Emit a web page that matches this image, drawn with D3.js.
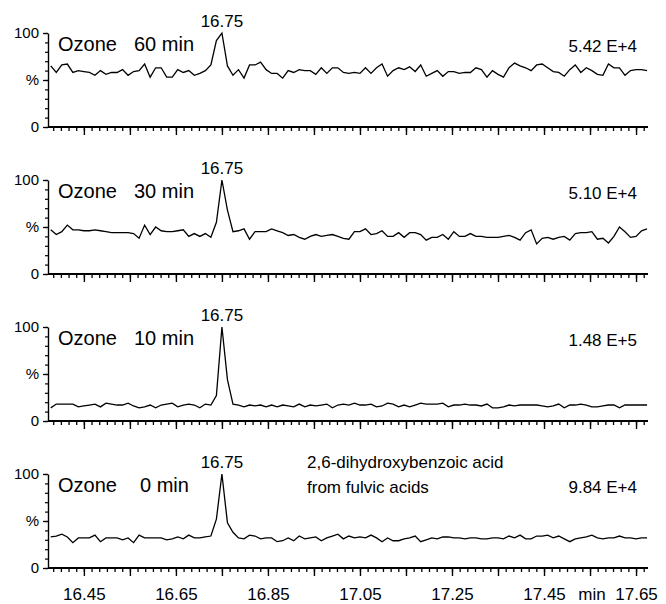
<!DOCTYPE html>
<html>
<head>
<meta charset="utf-8">
<script src="https://cdn.jsdelivr.net/npm/d3@7"></script>
<style>
  body { margin: 0; background: #fff; }
  text { font-family: "Liberation Sans", Arial, sans-serif; fill: #000; }
</style>
</head>
<body>
<svg id="chart" width="666" height="604"></svg>
<script>
// chromatogram traces, relative intensity (%) per scan
const ozone60 = [65,58,66,67,58,60,59,58,55,60,56,58,58,61,55,59,60,67,53,63,63,53,53,61,58,60,55,57,60,66,92,100,
  65,55,61,52,66,66,69,61,57,57,52,60,58,61,60,60,56,63,57,63,63,
  58,57,58,57,63,57,63,67,54,60,63,61,64,59,66,54,57,60,54,59,59,57,58,58,63,61,53,60,56,53,
  63,68,65,63,60,66,67,63,59,58,54,61,66,58,63,60,56,55,67,63,63,55,60,61,61,60];
const ozone30 = [47,42,45,52,47,47,46,46,47,46,45,44,44,44,44,43,38,52,42,50,46,45,45,46,47,40,43,40,43,39,55,100,
  68,45,46,48,37,45,45,45,48,46,44,41,42,39,37,40,42,40,41,42,40,
  38,37,45,45,48,42,43,46,40,40,44,39,44,44,42,36,39,39,42,37,45,40,40,43,40,40,39,39,39,40,
  41,39,36,44,47,32,38,39,37,39,40,36,43,44,44,45,37,38,33,40,50,45,39,40,46,48];
const ozone10 = [14,18,18,18,18,15,16,17,18,15,19,18,17,17,19,16,14,15,17,14,17,18,19,15,17,18,17,14,18,17,27,100,
  44,18,17,15,17,16,17,15,17,15,17,16,15,18,15,17,16,17,18,14,17,
  18,17,19,17,17,18,15,16,19,18,15,17,15,17,19,18,18,18,19,15,17,17,18,17,17,16,18,14,14,15,
  17,16,17,17,17,17,16,15,16,18,14,17,17,18,17,15,15,16,17,17,14,17,17,17,17,17];
const ozone0 = [33,34,36,33,27,32,32,32,35,28,32,32,32,30,32,27,35,32,32,32,32,30,31,33,31,35,32,32,33,34,52,100,
  48,38,32,31,35,34,31,32,32,28,29,32,29,34,31,32,33,29,32,34,36,
  31,34,32,33,32,35,32,28,32,29,29,31,32,34,28,30,32,31,33,33,32,32,31,32,32,31,31,32,32,31,
  34,32,35,31,31,34,34,35,32,34,31,28,31,32,33,35,32,31,32,32,34,32,32,31,32,32];

const traces = [ozone60, ozone30, ozone10, ozone0];
const treatments = ["60 min", "30 min", "10 min", "0 min"];
const intensities = ["5.42 E+4", "5.10 E+4", "1.48 E+5", "9.84 E+4"];
const peakLabel = "16.75";
const compound = ["2,6-dihydroxybenzoic acid", "from fulvic acids"];
const xTickLabels = [16.45, 16.65, 16.85, 17.05, 17.25, 17.45, 17.65];
const yTickLabels = [0, 50, 100];

const scanStart = 16.378, scanStep = 0.012; // min per scan

const svg = d3.select("#chart");
const x = d3.scaleLinear().domain([16.372, 17.676]).range([48, 648]);
const majorX = d3.range(16.35, 17.70, 0.1).filter(v => v > 16.372 && v < 17.676);
const minorX = d3.range(0, 80).map(k => 16.45 + (k - 4) / 60).filter(v => v > 16.375 && v < 17.676);

svg.append("clipPath").attr("id", "plot")
   .append("rect").attr("x", 48).attr("y", 0).attr("width", 600).attr("height", 604);

traces.forEach((data, i) => {
    const top = 33 + i * 147, bottom = top + 94;
    const y = d3.scaleLinear().domain([0, 100]).range([bottom, top]);
    const g = svg.append("g");

    // x axis ticks
    g.append("g").attr("transform", `translate(0,${bottom})`)
     .call(d3.axisBottom(x).tickValues(minorX).tickSize(4).tickFormat("").tickSizeOuter(0))
     .call(a => a.select(".domain").remove())
     .selectAll("line").attr("stroke-width", 1.3);
    g.append("g").attr("transform", `translate(0,${bottom})`)
     .call(d3.axisBottom(x).tickValues(majorX).tickSize(8).tickFormat("").tickSizeOuter(0))
     .call(a => a.select(".domain").attr("d", `M48,0H648`).attr("stroke-width", 2))
     .selectAll("line").attr("stroke-width", 1.4);

    // y axis
    g.append("g").attr("transform", "translate(48,0)")
     .call(d3.axisLeft(y).tickValues(d3.range(0, 101, 10)).tickSize(3).tickFormat("").tickSizeOuter(0))
     .call(a => a.select(".domain").attr("stroke-width", 1.4))
     .selectAll("line").attr("stroke-width", 1.2);
    g.append("g").attr("transform", "translate(48,0)")
     .call(d3.axisLeft(y).tickValues(yTickLabels).tickSize(5).tickPadding(4)
         .tickFormat(d => d === 50 ? "%" : d))
     .call(a => a.select(".domain").remove())
     .call(a => a.selectAll("text").attr("font-size", 15).attr("font-family", null))
     .selectAll("line").attr("stroke-width", 1.3);

    // trace
    g.append("path").datum(data)
     .attr("clip-path", "url(#plot)")
     .attr("fill", "none").attr("stroke", "#000").attr("stroke-width", 1.3)
     .attr("stroke-linejoin", "miter")
     .attr("d", d3.line().x((d, k) => x(scanStart + k * scanStep)).y(d => y(d)));

    g.append("text").attr("x", 58).attr("y", top + 18).attr("font-size", 20).text("Ozone");
    g.append("text").attr("x", i === 3 ? 140 : 134).attr("y", top + 18).attr("font-size", 20).text(treatments[i]);
    g.append("text").attr("x", x(16.75)).attr("y", top - 6).attr("text-anchor", "middle")
     .attr("font-size", 17).text(peakLabel);
    g.append("text").attr("x", 637).attr("y", top + 19).attr("text-anchor", "end")
     .attr("font-size", 17).text(intensities[i]);

    if (i === 3) {
        compound.forEach((t, k) => {
            g.append("text").attr("x", 307).attr("y", top - 6 + k * 25).attr("font-size", 17).text(t);
        });
        g.append("g").attr("transform", `translate(0,${bottom})`)
         .call(d3.axisBottom(x).tickValues(xTickLabels).tickSize(0).tickPadding(20).tickFormat(d3.format(".2f")))
         .call(a => a.select(".domain").remove())
         .selectAll("text").attr("font-size", 17).attr("font-family", null);
        g.append("text").attr("x", 592).attr("y", 600).attr("text-anchor", "middle")
         .attr("font-size", 17).text("min");
    }
});
</script>
</body>
</html>
